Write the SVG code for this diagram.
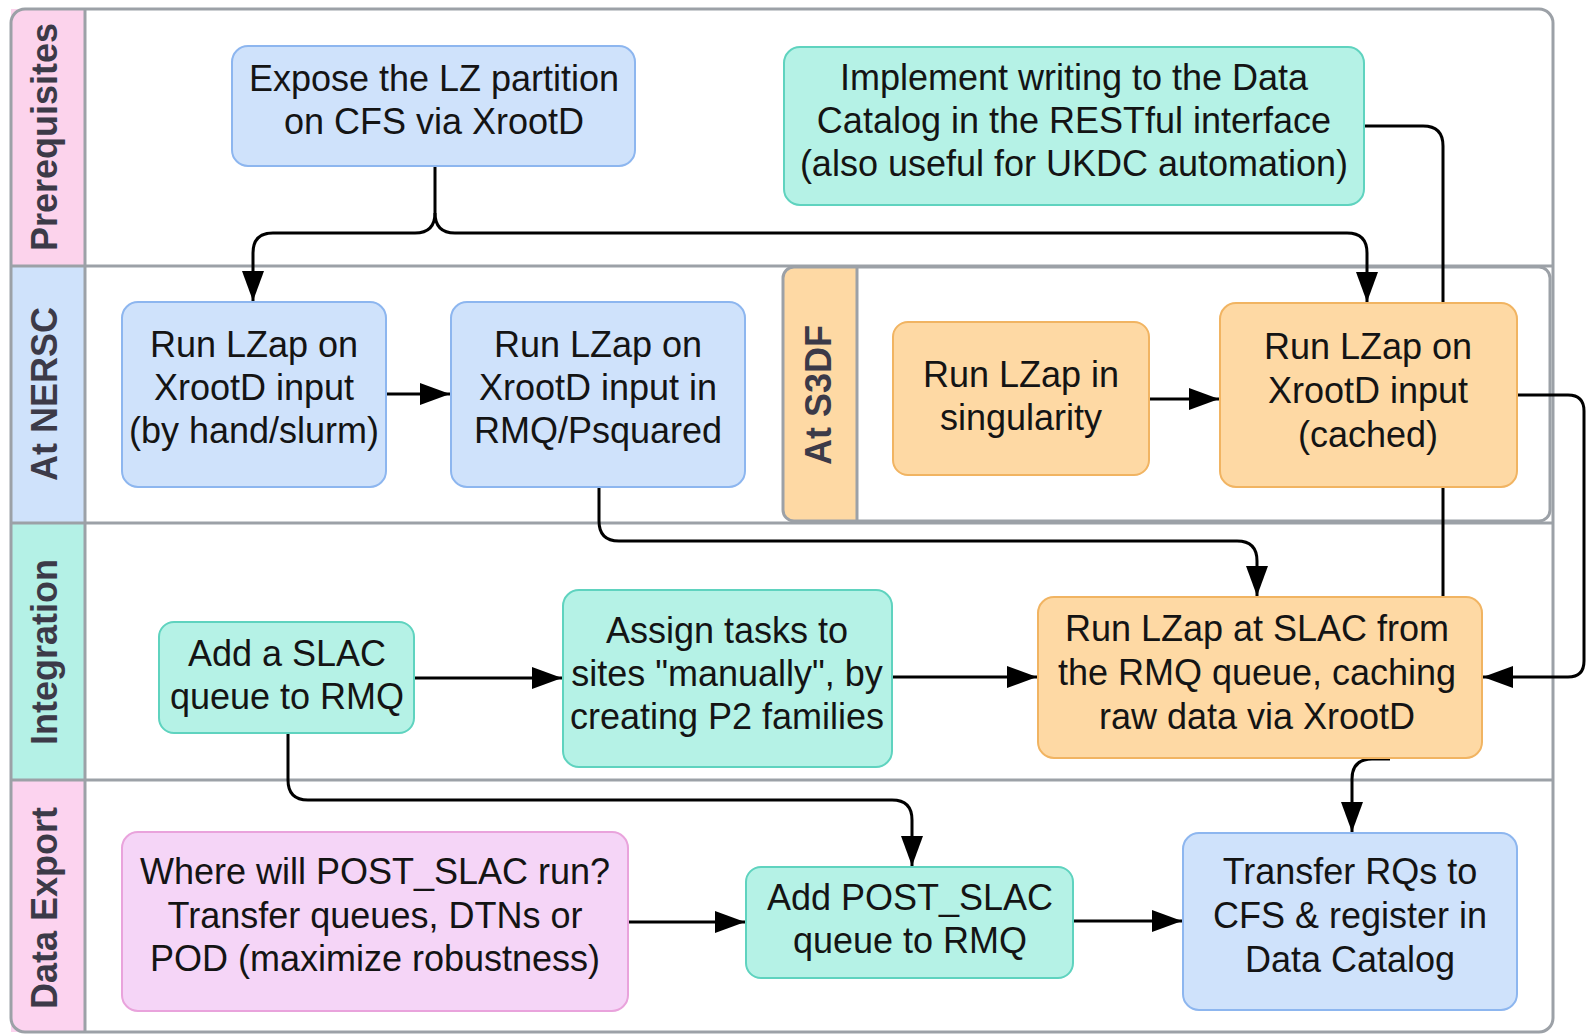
<svg xmlns="http://www.w3.org/2000/svg" width="1587" height="1036" viewBox="0 0 1587 1036">
<style>
.frame{fill:none;stroke:#9ca1a7;stroke-width:3}
.lbl{font-family:"Liberation Sans",Arial,sans-serif;font-weight:bold;font-size:36px;fill:#3c3a48;text-anchor:middle}
.t{font-family:"Liberation Sans",Arial,sans-serif;font-size:36px;fill:#141414;text-anchor:middle}
.blue{fill:#cfe2fb;stroke:#8db6ef;stroke-width:2}
.teal{fill:#b5f2e6;stroke:#5fd3bf;stroke-width:2}
.orange{fill:#fed9a4;stroke:#f1b462;stroke-width:2}
.pink{fill:#f5d5f7;stroke:#e9a3dc;stroke-width:2}
.c{fill:none;stroke:#000;stroke-width:3}
.ca{fill:none;stroke:#000;stroke-width:3;marker-end:url(#ah)}
</style>
<defs>
<marker id="ah" markerUnits="userSpaceOnUse" markerWidth="32" markerHeight="24" refX="30" refY="11" orient="auto">
<path d="M0,0 L30,11 L0,22 z" fill="#000"/>
</marker>
</defs>
<rect x="0" y="0" width="1587" height="1036" fill="#fff"/>
<g id="lanes">
<rect x="11" y="9" width="74" height="257" fill="#fcd3ec"/>
<rect x="11" y="266" width="74" height="257" fill="#cfe2fb"/>
<rect x="11" y="523" width="74" height="257" fill="#b4f1e6"/>
<rect x="11" y="780" width="74" height="252" fill="#fcd3ef"/>
<path d="M11,23 Q11,9 25,9 H85 V266 H11 Z" fill="#fcd3ec"/>
<path d="M11,780 H85 V1032 H25 Q11,1032 11,1018 Z" fill="#fcd3ef"/>
<rect x="0" y="0" width="11" height="1036" fill="#fff"/>
<rect x="11" y="9" width="1542" height="1023" rx="14" class="frame"/>
<line x1="85" y1="9" x2="85" y2="1032" class="frame"/>
<line x1="11" y1="266" x2="1553" y2="266" class="frame"/>
<line x1="11" y1="523" x2="1553" y2="523" class="frame"/>
<line x1="11" y1="780" x2="1553" y2="780" class="frame"/>
<path d="M783,278 Q783,267 794,267 H857 V521 H794 Q783,521 783,510 Z" fill="#fed9a4"/>
<rect x="783" y="267" width="767" height="254" rx="11" class="frame"/>
<line x1="857" y1="267" x2="857" y2="521" class="frame"/>
<text class="lbl" transform="translate(57,137) rotate(-90)">Prerequisites</text>
<text class="lbl" transform="translate(57,394) rotate(-90)">At NERSC</text>
<text class="lbl" transform="translate(57,652) rotate(-90)">Integration</text>
<text class="lbl" transform="translate(57,908) rotate(-90)">Data Export</text>
<text class="lbl" transform="translate(831,395) rotate(-90)">At S3DF</text>
</g>
<g id="connectors">
<path class="ca" d="M435,166 V213 Q435,233 415,233 H273 Q253,233 253,253 V301"/>
<path class="ca" d="M435,213 Q435,233 455,233 H1347 Q1367,233 1367,253 V302"/>
<path class="ca" d="M386,394 H450"/>
<path class="ca" d="M599,487 V521 Q599,541 619,541 H1237 Q1257,541 1257,561 V596"/>
<path class="c" d="M1364,126 H1423 Q1443,126 1443,146 V597"/>
<path class="ca" d="M1149,399 H1219"/>
<path class="ca" d="M1517,395 H1568 Q1584,395 1584,411 V661 Q1584,677 1568,677 H1483"/>
<path class="ca" d="M414,678 H562"/>
<path class="ca" d="M892,677 H1037"/>
<path class="ca" d="M288,733 V780 Q288,800 308,800 H892 Q912,800 912,820 V866"/>
<path class="ca" d="M1390,759 H1372 Q1352,759 1352,779 V832"/>
<path class="ca" d="M628,922 H745"/>
<path class="ca" d="M1073,921 H1182"/>
</g>
<g id="n1"><rect class="blue" x="232" y="46" width="403" height="120" rx="16"/>
<text class="t" x="434" y="91">Expose the LZ partition</text><text class="t" x="434" y="134">on CFS via XrootD</text></g>
<g id="n2"><rect class="teal" x="784" y="47" width="580" height="158" rx="16"/>
<text class="t" x="1074" y="90">Implement writing to the Data</text><text class="t" x="1074" y="133">Catalog in the RESTful interface</text><text class="t" x="1074" y="176">(also useful for UKDC automation)</text></g>
<g id="n3"><rect class="blue" x="122" y="302" width="264" height="185" rx="16"/>
<text class="t" x="254" y="357">Run LZap on</text><text class="t" x="254" y="400">XrootD input</text><text class="t" x="254" y="443">(by hand/slurm)</text></g>
<g id="n4"><rect class="blue" x="451" y="302" width="294" height="185" rx="16"/>
<text class="t" x="598" y="357">Run LZap on</text><text class="t" x="598" y="400">XrootD input in</text><text class="t" x="598" y="443">RMQ/Psquared</text></g>
<g id="n5"><rect class="orange" x="893" y="322" width="256" height="153" rx="15"/>
<text class="t" x="1021" y="387">Run LZap in</text><text class="t" x="1021" y="430">singularity</text></g>
<g id="n6"><rect class="orange" x="1220" y="303" width="297" height="184" rx="16"/>
<text class="t" x="1368" y="359">Run LZap on</text><text class="t" x="1368" y="403">XrootD input</text><text class="t" x="1368" y="447">(cached)</text></g>
<g id="n7"><rect class="teal" x="159" y="622" width="255" height="111" rx="15"/>
<text class="t" x="287" y="666">Add a SLAC</text><text class="t" x="287" y="709">queue to RMQ</text></g>
<g id="n8"><rect class="teal" x="563" y="590" width="329" height="177" rx="16"/>
<text class="t" x="727" y="643">Assign tasks to</text><text class="t" x="727" y="686">sites "manually", by</text><text class="t" x="727" y="729">creating P2 families</text></g>
<g id="n9"><rect class="orange" x="1038" y="597" width="444" height="161" rx="16"/>
<text class="t" x="1257" y="641">Run LZap at SLAC from</text><text class="t" x="1257" y="685">the RMQ queue, caching</text><text class="t" x="1257" y="729">raw data via XrootD</text></g>
<g id="n10"><rect class="pink" x="122" y="832" width="506" height="179" rx="16"/>
<text class="t" x="375" y="884">Where will POST_SLAC run?</text><text class="t" x="375" y="928">Transfer queues, DTNs or</text><text class="t" x="375" y="971">POD (maximize robustness)</text></g>
<g id="n11"><rect class="teal" x="746" y="867" width="327" height="111" rx="15"/>
<text class="t" x="910" y="910">Add POST_SLAC</text><text class="t" x="910" y="953">queue to RMQ</text></g>
<g id="n12"><rect class="blue" x="1183" y="833" width="334" height="177" rx="16"/>
<text class="t" x="1350" y="884">Transfer RQs to</text><text class="t" x="1350" y="928">CFS &amp; register in</text><text class="t" x="1350" y="972">Data Catalog</text></g>
</svg>
